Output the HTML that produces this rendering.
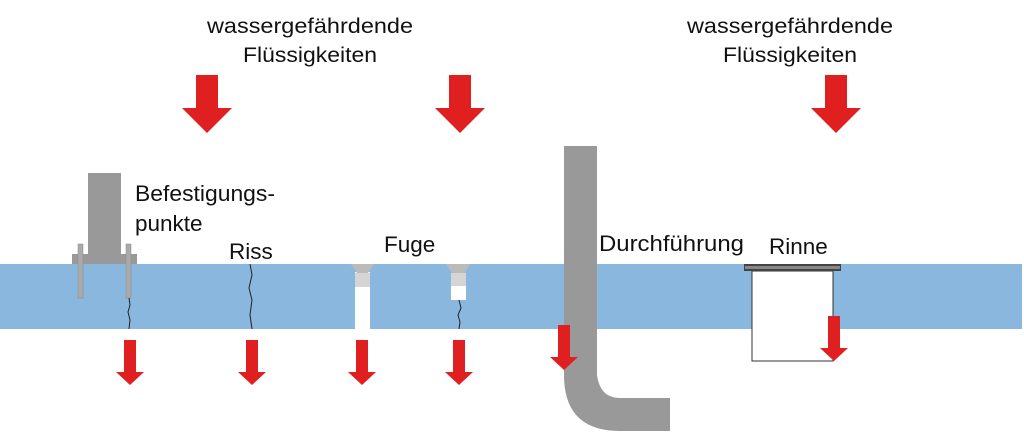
<!DOCTYPE html>
<html><head><meta charset="utf-8"><style>body{margin:0;background:#fff}svg{display:block}</style></head><body>
<svg width="1024" height="442" viewBox="0 0 1024 442" xmlns="http://www.w3.org/2000/svg" font-family="Liberation Sans, sans-serif" font-size="21" fill="#111">
<defs>
<g id="big"><polygon points="-11,0 11,0 11,33 25,33 0,58 -25,33 -11,33" fill="#e02020"/></g>
<g id="small"><polygon points="-6,0 6,0 6,32 14,32 0,45 -14,32 -6,32" fill="#e02020"/></g>
</defs>
<text x="310" y="33" text-anchor="middle" textLength="206" lengthAdjust="spacingAndGlyphs">wassergefährdende</text>
<text x="310" y="62" text-anchor="middle" textLength="134" lengthAdjust="spacingAndGlyphs">Flüssigkeiten</text>
<text x="790" y="33" text-anchor="middle" textLength="206" lengthAdjust="spacingAndGlyphs">wassergefährdende</text>
<text x="790" y="62" text-anchor="middle" textLength="134" lengthAdjust="spacingAndGlyphs">Flüssigkeiten</text>
<use href="#big" x="207" y="75"/>
<use href="#big" x="460" y="75"/>
<use href="#big" x="836" y="75"/>
<rect x="0" y="264" width="1022" height="65" fill="#89b7de"/>
<rect x="88" y="173" width="33" height="82" fill="#999"/>
<rect x="72" y="254" width="65" height="10" fill="#999"/>
<rect x="78" y="244" width="5" height="54" fill="#aaa" stroke="#888" stroke-width="0.5"/>
<rect x="126" y="244" width="5" height="54" fill="#aaa" stroke="#888" stroke-width="0.5"/>
<polyline points="129,298 130,305 128,312 130,320 129,329" fill="none" stroke="#222" stroke-width="1"/>
<polyline points="250,264 252,275 249,288 252,300 250,315 252,329" fill="none" stroke="#222" stroke-width="1"/>
<rect x="355" y="272" width="15" height="57" fill="#fff"/>
<polygon points="351,264 374,264 368,273 357,273" fill="#bbb"/>
<rect x="355" y="273" width="15" height="14" fill="#d5d5d5"/>
<polygon points="446,264 470,264 465,273 452,273" fill="#bbb"/>
<rect x="451" y="273" width="15" height="13" fill="#d5d5d5"/>
<rect x="451" y="286" width="15" height="14" fill="#fff"/>
<polyline points="459,300 461,308 458,315 460,322 459,329" fill="none" stroke="#222" stroke-width="1"/>
<path d="M564,146 H597 V375 Q600,398 620,398 H670 V431 H620 Q564,431 564,375 Z" fill="#999"/>
<rect x="752" y="271" width="81" height="90" fill="#fff" stroke="#333" stroke-width="1"/>
<rect x="744" y="264" width="97" height="7" fill="#444"/>
<rect x="745" y="266" width="95" height="3" fill="#888"/>
<g font-size="22.5">
<text x="135" y="201" textLength="140" lengthAdjust="spacingAndGlyphs">Befestigungs-</text>
<text x="135" y="231">punkte</text>
<text x="229" y="259">Riss</text>
<text x="384" y="252">Fuge</text>
<text x="599" y="251" textLength="145" lengthAdjust="spacingAndGlyphs">Durchführung</text>
<text x="769" y="254">Rinne</text>
</g>
<use href="#small" x="130" y="340"/>
<use href="#small" x="252" y="340"/>
<use href="#small" x="362" y="340"/>
<use href="#small" x="459" y="340"/>
<use href="#small" x="564" y="325"/>
<use href="#small" x="834" y="316"/>
</svg>
</body></html>
